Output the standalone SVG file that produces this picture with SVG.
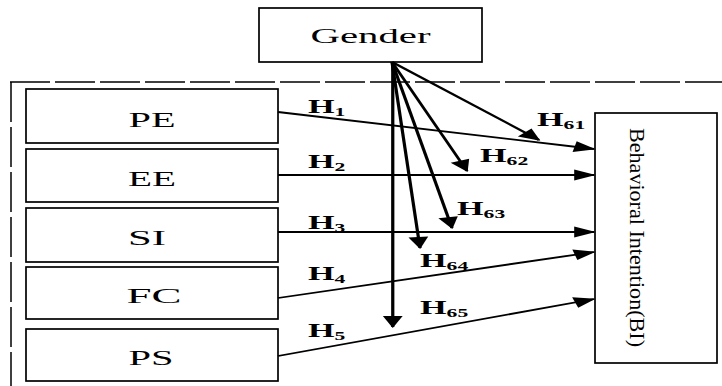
<svg xmlns="http://www.w3.org/2000/svg" width="722" height="386" viewBox="0 0 722 386">
<style>
.box{fill:#fff;stroke:#000;stroke-width:1.7}
.frame{fill:none;stroke:#000;stroke-width:1.5;stroke-dasharray:40 5}
.lbl{font-family:"Liberation Serif",serif;font-size:20px;fill:#000}
.h{font-family:"Liberation Serif",serif;font-size:19px;font-weight:bold;fill:#000}
.sub{font-size:12px}
.con{fill:none;stroke:#000;stroke-width:1.8;marker-end:url(#ah)}
</style>
<defs>
<marker id="ah" markerUnits="userSpaceOnUse" markerWidth="13" markerHeight="12" refX="11" refY="5.5" orient="auto" overflow="visible">
<path d="M0,0 L12,5.5 L0,11 z" fill="#000"/>
</marker>
</defs>
<rect width="722" height="386" fill="#fff"/>
<g id="frame">
<path class="frame" d="M10,82 H722"/>
<path class="frame" d="M11,82 V386"/>
</g>
<g id="gender">
<rect class="box" x="259" y="8" width="223" height="54"/>
<text class="lbl" x="370.5" y="43" font-size="22" text-anchor="middle" textLength="120" lengthAdjust="spacingAndGlyphs">Gender</text>
</g>
<g id="pe">
<rect class="box" x="26" y="89" width="252" height="54"/>
<text class="lbl" x="152" y="127" text-anchor="middle" textLength="47" lengthAdjust="spacingAndGlyphs">PE</text>
</g>
<g id="ee">
<rect class="box" x="26" y="149" width="252" height="53"/>
<text class="lbl" x="152" y="186" text-anchor="middle" textLength="48" lengthAdjust="spacingAndGlyphs">EE</text>
</g>
<g id="si">
<rect class="box" x="26" y="208" width="252" height="54"/>
<text class="lbl" x="147" y="245" text-anchor="middle" textLength="38" lengthAdjust="spacingAndGlyphs">SI</text>
</g>
<g id="fc">
<rect class="box" x="26" y="267" width="252" height="52"/>
<text class="lbl" x="154" y="303" font-size="21" text-anchor="middle" textLength="55" lengthAdjust="spacingAndGlyphs">FC</text>
</g>
<g id="ps">
<rect class="box" x="26" y="329" width="252" height="52"/>
<text class="lbl" x="151" y="365" text-anchor="middle" textLength="45" lengthAdjust="spacingAndGlyphs">PS</text>
</g>
<g id="bi">
<rect class="box" x="595" y="113" width="122" height="250"/>
<text class="lbl" font-size="21" transform="translate(630,128) rotate(90)" textLength="219" lengthAdjust="spacingAndGlyphs">Behavioral Intention(BI)</text>
</g>
<g id="connectors" transform="scale(1.8,1)">
<line class="con" x1="154.44" y1="112" x2="330" y2="149"/>
<line class="con" x1="154.44" y1="175" x2="330" y2="175"/>
<line class="con" x1="154.44" y1="232" x2="330" y2="232"/>
<line class="con" x1="154.44" y1="298" x2="330" y2="252"/>
<line class="con" x1="154.44" y1="356" x2="330" y2="299"/>
<line class="con" x1="217.78" y1="62" x2="299.44" y2="140"/>
<line class="con" x1="217.78" y1="62" x2="259.44" y2="171"/>
<line class="con" x1="217.78" y1="62" x2="251.11" y2="228"/>
<line class="con" x1="217.78" y1="62" x2="233.33" y2="248"/>
<line class="con" x1="218.2" y1="62" x2="218.2" y2="327"/>
</g>
<g id="labels">
<text class="h" transform="translate(308,113) scale(1.8,1)">H<tspan class="sub" dy="3">1</tspan></text>
<text class="h" transform="translate(308,168) scale(1.8,1)">H<tspan class="sub" dy="3">2</tspan></text>
<text class="h" transform="translate(308,229) scale(1.8,1)">H<tspan class="sub" dy="3">3</tspan></text>
<text class="h" transform="translate(308,280) scale(1.8,1)">H<tspan class="sub" dy="3">4</tspan></text>
<text class="h" transform="translate(308,337) scale(1.8,1)">H<tspan class="sub" dy="3">5</tspan></text>
<text class="h" transform="translate(537,126) scale(1.8,1)">H<tspan class="sub" dy="3">61</tspan></text>
<text class="h" transform="translate(480,162) scale(1.8,1)">H<tspan class="sub" dy="3">62</tspan></text>
<text class="h" transform="translate(457,215) scale(1.8,1)">H<tspan class="sub" dy="3">63</tspan></text>
<text class="h" transform="translate(420,267) scale(1.8,1)">H<tspan class="sub" dy="3">64</tspan></text>
<text class="h" transform="translate(420,314) scale(1.8,1)">H<tspan class="sub" dy="3">65</tspan></text>
</g>
</svg>
